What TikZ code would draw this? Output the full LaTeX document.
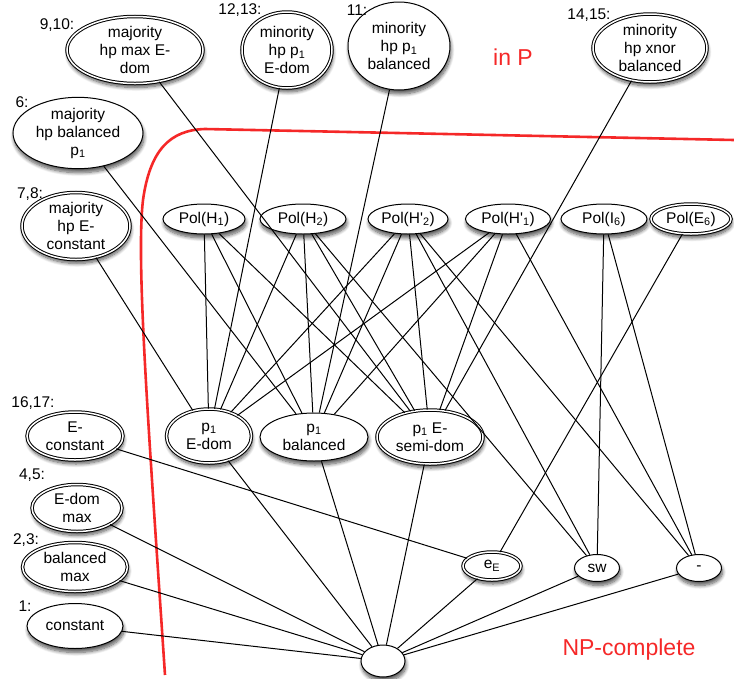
\documentclass[tikz,border=0pt]{standalone}
\usepackage{fontspec}
\setmainfont{Liberation Sans}
\usetikzlibrary{shapes.geometric}
\usetikzlibrary{shadows.blur}
\definecolor{regionred}{RGB}{245,40,40}
\tikzstyle{problem}=[draw, ellipse, line width=1pt, fill=white, inner sep=0, align=center, font=\fontsize{15.5}{18}\selectfont, blur shadow={shadow xshift=1pt, shadow yshift=-4pt, shadow blur radius=3.5pt, shadow blur steps=8, shadow opacity=65}]
\tikzstyle{double problem}=[problem, double, double distance=1.5pt]
\tikzstyle{case label}=[font=\fontsize{15.5}{18}\selectfont, inner sep=0]
\tikzstyle{region label}=[text=regionred, font=\fontsize{23}{27}\selectfont, inner sep=0]
\tikzstyle{cover}=[line width=1pt]
\tikzstyle{border}=[draw=regionred, line width=2.6pt]

\begin{document}
\begin{tikzpicture}[x=1pt, y=-1pt]
    \useasboundingbox (0,0) rectangle (734,678);

    \draw[border] (165,675) .. controls (148,420) and (136,260) .. (143,200)
      .. controls (150,150) and (170,130) .. (205,129) -- (734,140);

    \node[double problem, minimum width=136pt, minimum height=64pt] (maj_max_edom) at (135,50) {majority\\hp max E-\\dom};
    \node[double problem, minimum width=90pt, minimum height=76pt] (min_p_edom) at (287,50) {minority\\hp p\textsubscript{1}\\E-dom};
    \node[problem, minimum width=102pt, minimum height=88pt] (min_p_bal) at (399,46) {minority\\hp p\textsubscript{1}\\balanced};
    \node[double problem, minimum width=114pt, minimum height=68pt] (min_xnor_bal) at (650,48) {minority\\hp xnor\\balanced};
    \node[problem, minimum width=130pt, minimum height=70pt] (maj_bal_p) at (78,133) {majority\\hp balanced\\p\textsubscript{1}};
    \node[double problem, minimum width=108pt, minimum height=66pt] (maj_econst) at (76,226) {majority\\hp E-\\constant};

    \node[case label] (tag_maj_max_edom) at (57,25) {9,10:};
    \node[case label] (tag_min_p_edom) at (240,10) {12,13:};
    \node[case label] (tag_min_p_bal) at (357,10) {11:};
    \node[case label] (tag_min_xnor_bal) at (589,15) {14,15:};
    \node[case label] (tag_maj_bal_p) at (22,102) {6:};
    \node[case label] (tag_maj_econst) at (30,194) {7,8:};

    \node[problem, minimum width=82pt, minimum height=30pt] (pol_h1) at (204,219) {Pol(H\textsubscript{1})};
    \node[problem, minimum width=86pt, minimum height=30pt] (pol_h2) at (303,219) {Pol(H\textsubscript{2})};
    \node[problem, minimum width=80pt, minimum height=30pt] (pol_hp2) at (408,219) {Pol(H\textquotesingle\textsubscript{2})};
    \node[problem, minimum width=85pt, minimum height=30pt] (pol_hp1) at (508,219) {Pol(H\textquotesingle\textsubscript{1})};
    \node[problem, minimum width=86pt, minimum height=30pt] (pol_i6) at (604,219) {Pol(I\textsubscript{6})};
    \node[double problem, minimum width=80pt, minimum height=30pt] (pol_e6) at (691,219) {Pol(E\textsubscript{6})};

    \node[double problem, minimum width=85pt, minimum height=54pt] (p_edom) at (209,436) {p\textsubscript{1}\\E-dom};
    \node[problem, minimum width=108pt, minimum height=48pt] (p_bal) at (314,437) {p\textsubscript{1}\\balanced};
    \node[double problem, minimum width=106pt, minimum height=54pt] (p_semidom) at (430,437) {p\textsubscript{1} E-\\semi-dom};

    \node[double problem, minimum width=96pt, minimum height=48pt] (e_const) at (75,436) {E-\\constant};
    \node[double problem, minimum width=90pt, minimum height=47pt] (edom_max) at (77,508) {E-dom\\max};
    \node[double problem, minimum width=105pt, minimum height=49pt] (bal_max) at (75,567) {balanced\\max};
    \node[problem, minimum width=96pt, minimum height=45pt] (constant) at (75,626) {constant};

    \node[case label] (tag_e_const) at (33,403) {16,17:};
    \node[case label] (tag_edom_max) at (32,475) {4,5:};
    \node[case label] (tag_bal_max) at (26,540) {2,3:};
    \node[case label] (tag_constant) at (25,606) {1:};

    \node[double problem, minimum width=58pt, minimum height=28pt] (e_e) at (492,566) {e\textsubscript{E}};
    \node[problem, minimum width=45pt, minimum height=27pt] (sw) at (597,568) {sw};
    \node[problem, minimum width=45pt, minimum height=27pt] (minus) at (699,568) {-};
    \node[problem, minimum width=44pt, minimum height=32pt] (bot) at (383,661) {};

    \node[region label] (in_p) at (513,57) {in P};
    \node[region label] (np_complete) at (629,650) {NP-complete};

    \draw[cover] (maj_max_edom) -- (p_semidom);
    \draw[cover] (min_p_edom) -- (p_edom);
    \draw[cover] (min_p_bal) -- (p_bal);
    \draw[cover] (min_xnor_bal) -- (p_semidom);
    \draw[cover] (maj_bal_p) -- (p_bal);
    \draw[cover] (maj_econst) -- (p_edom);
    \foreach \pol in {pol_h1, pol_h2, pol_hp2, pol_hp1}
      \foreach \mid in {p_edom, p_bal, p_semidom}
        \draw[cover] (\pol) -- (\mid);
    \draw[cover] (pol_h2) -- (sw);
    \draw[cover] (pol_hp2) -- (sw);
    \draw[cover] (pol_hp2) -- (minus);
    \draw[cover] (pol_hp1) -- (minus);
    \draw[cover] (pol_i6) -- (sw);
    \draw[cover] (pol_i6) -- (minus);
    \draw[cover] (pol_e6) -- (e_e);
    \draw[cover] (e_const) -- (e_e);
    \foreach \low in {p_edom, p_bal, p_semidom, e_e, sw, minus, edom_max, bal_max, constant}
      \draw[cover] (\low) -- (bot);
  \end{tikzpicture}
\end{document}
